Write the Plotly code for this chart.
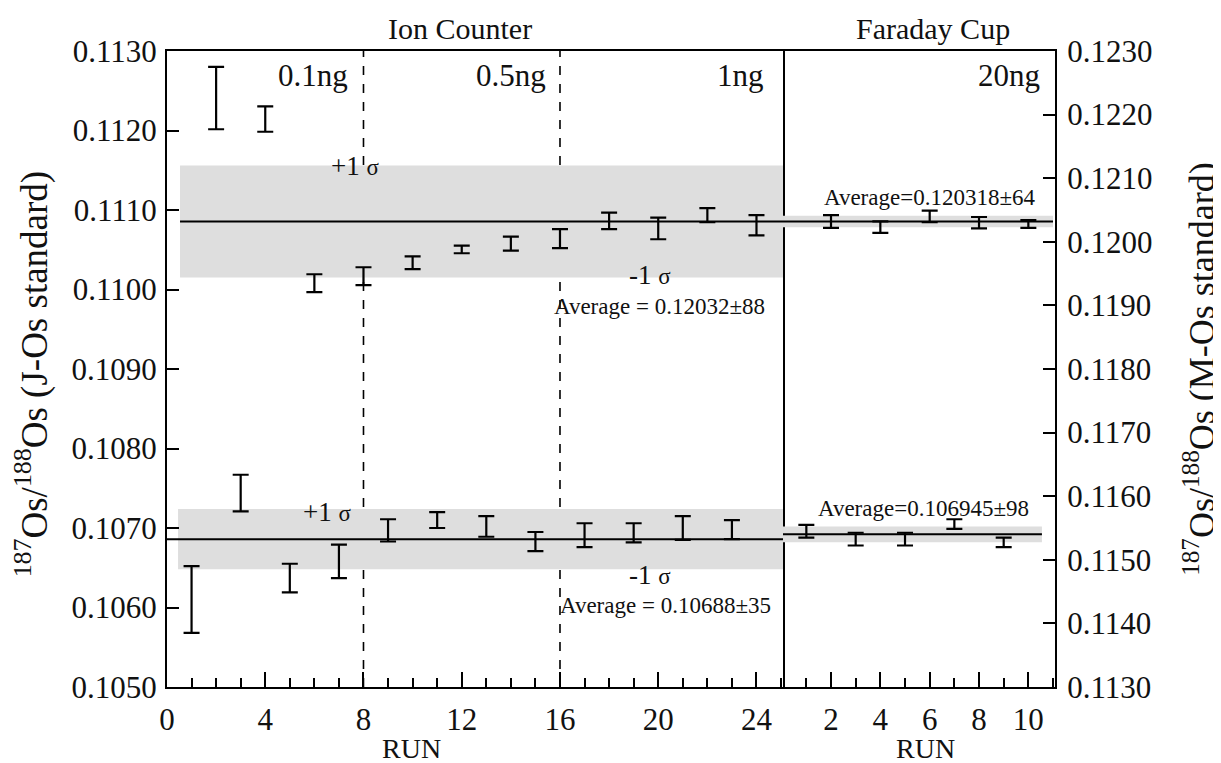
import plotly.graph_objects as go

# ---------------- data ----------------
# Ion Counter, M-Os standard (right axis), even runs
ic_mos_run = [2, 4, 6, 8, 10, 12, 14, 16, 18, 20, 22, 24]
ic_mos_val = [0.12226, 0.12193, 0.11935, 0.11946, 0.11967, 0.11988,
              0.11997, 0.12005, 0.12033, 0.12021, 0.12042, 0.12026]
ic_mos_err = [0.00049, 0.00020, 0.00014, 0.00014, 0.00010, 0.00006,
              0.00011, 0.00015, 0.00013, 0.00017, 0.00011, 0.00016]

# Ion Counter, J-Os standard (left axis), odd runs
ic_jos_run = [1, 3, 5, 7, 9, 11, 13, 15, 17, 19, 21, 23]
ic_jos_val = [0.10610, 0.10744, 0.10637, 0.10658, 0.10697, 0.10710,
              0.10702, 0.10683, 0.10691, 0.10694, 0.10700, 0.10698]
ic_jos_err = [0.00042, 0.00023, 0.00018, 0.00021, 0.00014, 0.00010,
              0.00013, 0.00012, 0.00015, 0.00012, 0.00015, 0.00012]

# Faraday Cup, M-Os standard (right axis)
fc_mos_run = [2, 4, 6, 8, 10]
fc_mos_val = [0.12032, 0.12023, 0.12040, 0.12030, 0.12028]
fc_mos_err = [0.00010, 0.00009, 0.00009, 0.00009, 0.00006]

# Faraday Cup, J-Os standard (left axis)
fc_jos_run = [1, 3, 5, 7, 9]
fc_jos_val = [0.10696, 0.10686, 0.10686, 0.10705, 0.10682]
fc_jos_err = [0.00008, 0.00008, 0.00008, 0.00006, 0.00006]

# averages and 1-sigma bands: [mean, sigma, run_start, run_end]
ic_mos_avg = [0.12032, 0.00088, 0.53, 25.08]
ic_jos_avg = [0.10686, 0.00038, 0.0, 25.08]
ic_jos_band_start = 0.45
fc_mos_avg = [0.12032, 0.00009, 0.054, 11.0]
fc_jos_avg = [0.10692, 0.00010, 0.054, 10.55]

sample_splits = [8, 16]
left_ticks = [0.105, 0.106, 0.107, 0.108, 0.109, 0.110, 0.111, 0.112, 0.113]
right_ticks = [0.113, 0.114, 0.115, 0.116, 0.117, 0.118, 0.119, 0.120, 0.121, 0.122, 0.123]

FONT = "Liberation Serif"
TXT = "#111111"

fig = go.Figure()


def bars(x, y, err, xa, ya):
    fig.add_trace(go.Scatter(
        x=x, y=y, xaxis=xa, yaxis=ya, mode="markers",
        marker=dict(size=1, color="rgba(0,0,0,0)"),
        error_y=dict(type="data", array=err, color="black", thickness=2.2, width=8),
        showlegend=False, hoverinfo="skip"))


bars(ic_mos_run, ic_mos_val, ic_mos_err, "x", "y2")
bars(ic_jos_run, ic_jos_val, ic_jos_err, "x", "y")
bars(fc_mos_run, fc_mos_val, fc_mos_err, "x2", "y2")
bars(fc_jos_run, fc_jos_val, fc_jos_err, "x2", "y")

shapes = []
BAND = "#dedede"


def band(avg, xr, yr, band_start=None):
    m, s, x0, x1 = avg
    shapes.append(dict(type="rect", xref=xr, yref=yr, layer="below",
                       x0=band_start if band_start is not None else x0, x1=x1,
                       y0=m - s, y1=m + s, fillcolor=BAND, line=dict(width=0)))


def avgline(avg, xr, yr):
    m, s, x0, x1 = avg
    shapes.append(dict(type="line", xref=xr, yref=yr, layer="below",
                       x0=x0, x1=x1, y0=m, y1=m, line=dict(color="black", width=2)))


band(ic_mos_avg, "x", "y2")
band(ic_jos_avg, "x", "y", ic_jos_band_start)
band(fc_mos_avg, "x2", "y2")
band(fc_jos_avg, "x2", "y")

# white boxes behind sigma labels
for (bx0, bx1, by0, by1) in [(6.31, 9.0, 0.7972, 0.8208), (18.36, 21.0, 0.6415, 0.6682),
                             (5.13, 7.82, 0.2547, 0.2783), (18.3, 21.0, 0.184, 0.1986)]:
    shapes.append(dict(type="rect", xref="x", yref="paper", layer="below",
                       x0=bx0, x1=bx1, y0=by0, y1=by1, fillcolor="white", line=dict(width=0)))

avgline(ic_mos_avg, "x", "y2")
avgline(ic_jos_avg, "x", "y")
avgline(fc_mos_avg, "x2", "y2")
avgline(fc_jos_avg, "x2", "y")

for s in sample_splits:
    shapes.append(dict(type="line", xref="x", yref="paper", layer="below",
                       x0=s, x1=s, y0=0, y1=1,
                       line=dict(color="black", width=1.6, dash="dash")))

ann = []


def A(text, x, y, xref="paper", yref="paper", size=28, xanchor="center", angle=0):
    ann.append(dict(text=text, x=x, y=y, xref=xref, yref=yref, showarrow=False,
                    xanchor=xanchor, yanchor="middle", textangle=angle,
                    font=dict(family=FONT, size=size, color=TXT)))


A("Ion Counter", 0.33, 1.035, size=30)
A("Faraday Cup", 0.8626, 1.035, size=30)
A("0.1ng", 7.45, 0.9607, xref="x", xanchor="right", size=31)
A("0.5ng", 15.5, 0.9607, xref="x", xanchor="right", size=31)
A("1ng", 24.4, 0.9607, xref="x", xanchor="right", size=31)
A("20ng", 10.56, 0.9607, xref="x2", xanchor="right", size=31)
A("RUN", 0.2748, -0.097, size=28)
A("RUN", 0.8547, -0.097, size=28)
A("<sup>187</sup>Os/<sup>188</sup>Os (J-Os standard)", -0.151, 0.493, size=37, angle=-90)
A("<sup>187</sup>Os/<sup>188</sup>Os (M-Os standard)", 1.162, 0.5, size=36, angle=-90)
sig = "<span style='font-size:23px'>σ</span>"
A("+1 " + sig, 7.65, 0.819, xref="x", size=27)
A("-1 " + sig, 19.67, 0.648, xref="x", size=27)
A("+1 " + sig, 6.51, 0.275, xref="x", size=27)
A("-1 " + sig, 19.67, 0.176, xref="x", size=27)
A("Average = 0.12032±88", 24.43, 0.599, xref="x", xanchor="right", size=23)
A("Average = 0.10688±35", 24.67, 0.128, xref="x", xanchor="right", size=23)
A("Average=0.120318±64", 10.4, 0.769, xref="x2", xanchor="right", size=23)
A("Average=0.106945±98", 10.12, 0.2814, xref="x2", xanchor="right", size=23)

tickfont = dict(family=FONT, size=31, color=TXT)
axline = dict(showline=True, linecolor="black", linewidth=2, showgrid=False,
              zeroline=False, ticks="inside", tickcolor="black", tickwidth=2)

# the page body has an 8px default margin, so the figure is 8px smaller
fig.update_layout(
    width=1213, height=755,
    margin=dict(l=159, r=166, t=43, b=76),
    paper_bgcolor="white", plot_bgcolor="white",
    showlegend=False,
    shapes=shapes, annotations=ann,
    xaxis=dict(domain=[0, 0.6937], range=[0, 25.08], anchor="y",
               tick0=0, dtick=4, ticklen=15, mirror=True,
               minor=dict(dtick=1, ticks="inside", ticklen=9, tickcolor="black", tickwidth=2),
               tickfont=tickfont, ticklabelstandoff=4, **axline),
    xaxis2=dict(domain=[0.6937, 1], range=[0.054, 11.08], anchor="y",
                tick0=0, dtick=2, ticklen=15, mirror=True,
                minor=dict(dtick=1, ticks="inside", ticklen=9, tickcolor="black", tickwidth=2),
                tickfont=tickfont, ticklabelstandoff=4, **axline),
    yaxis=dict(domain=[0, 1], range=[0.105, 0.113], anchor="x",
               tickvals=left_ticks, tickformat=".4f", ticklen=12, mirror=True,
               tickfont=tickfont, ticklabelstandoff=2, **axline),
    yaxis2=dict(overlaying="y", side="right", anchor="x2", range=[0.113, 0.123],
                tickvals=right_ticks, tickformat=".4f", ticklen=12,
                tickfont=tickfont, ticklabelstandoff=4, **axline),
)

fig.write_html("out.html")
